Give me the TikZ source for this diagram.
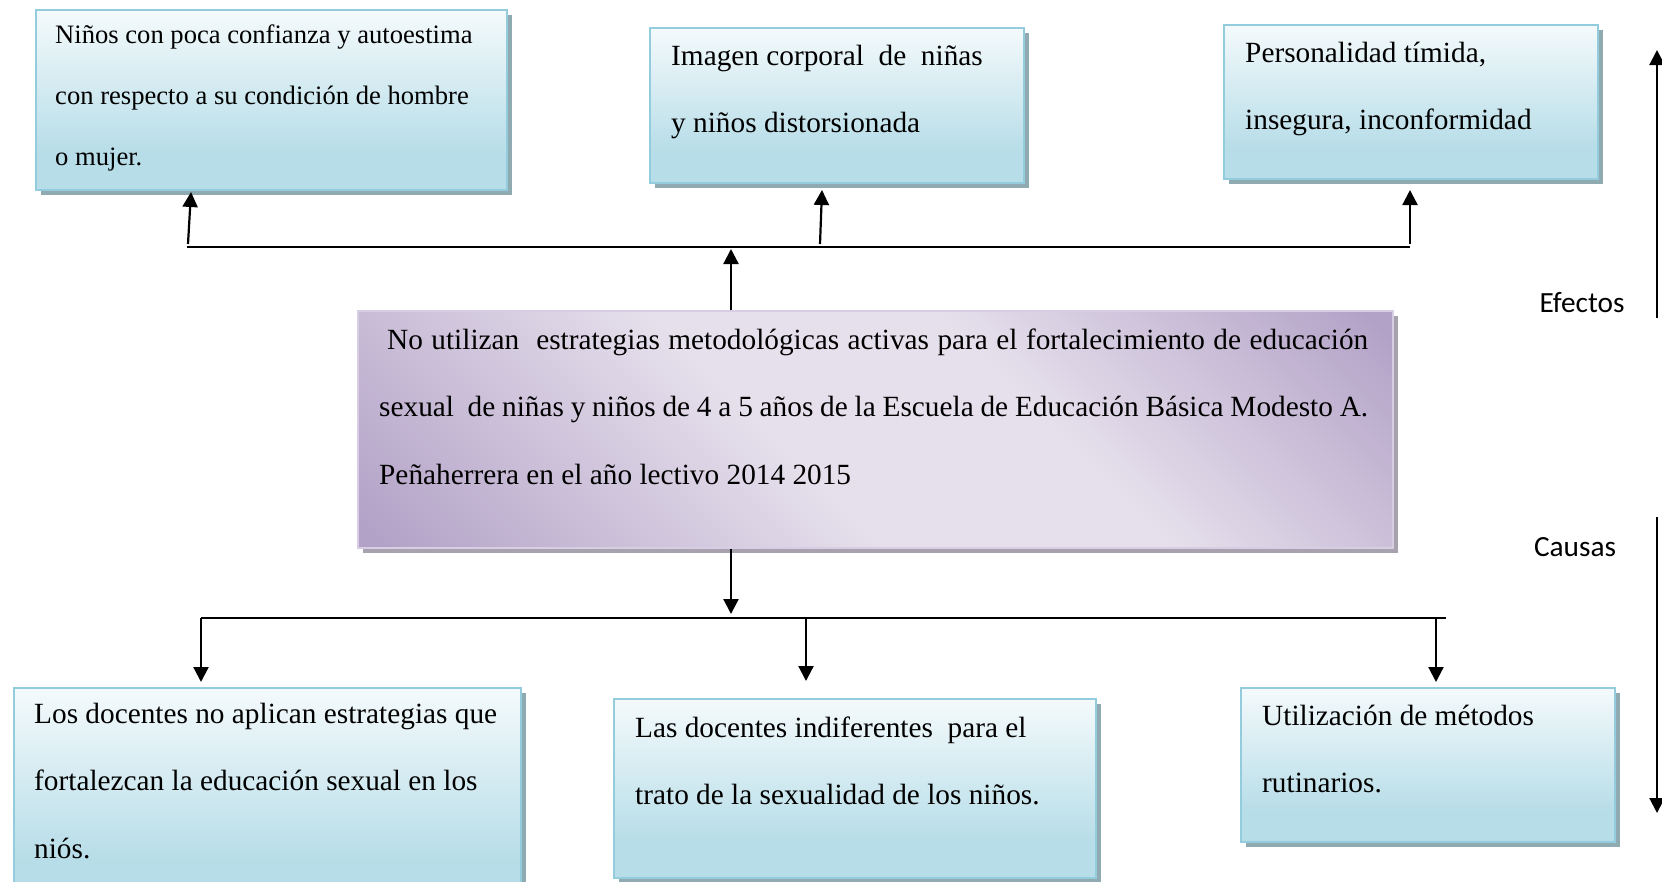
\documentclass[tikz,border=0pt]{standalone}
\usepackage{fontspec}
\setmainfont{Liberation Serif}
\newfontfamily\calib{Carlito}
\usetikzlibrary{arrows.meta,shadows,calc}
\definecolor{bfill}{HTML}{B7DDE8}
\definecolor{bdraw}{HTML}{93CDDD}
\definecolor{bshad}{HTML}{8FAAB1}
\definecolor{pdark}{HTML}{B3A2C7}
\definecolor{plight}{HTML}{E6E0EC}
\definecolor{pshad}{HTML}{A8A2AE}
\definecolor{pedge}{HTML}{D8CEE4}
\newcommand\nsp{\spaceskip=0pt\xspaceskip=0pt\relax}
\pgfdeclareverticalshading{bluesh}{100bp}{color(0bp)=(bfill); color(35bp)=(bfill); color(82bp)=(white); color(100bp)=(white)}
\pgfdeclarehorizontalshading{purpsh}{100bp}{color(0bp)=(pdark); color(16bp)=(pdark); color(44bp)=(plight); color(60bp)=(plight); color(84bp)=(pdark); color(100bp)=(pdark)}
\tikzset{
  bluebox/.style={rectangle, anchor=north west, inner sep=0pt, draw=bdraw, line width=2pt, shading=bluesh,
    drop shadow={shadow xshift=5pt, shadow yshift=-5pt, fill=bshad, opacity=1, draw=none}},
  purpbox/.style={rectangle, anchor=north west, inner sep=0pt, draw=pedge, line width=1.5pt, shading=purpsh, shading angle=45,
    drop shadow={shadow xshift=5pt, shadow yshift=-5pt, fill=pshad, opacity=1, draw=none}},
  txt/.style={anchor=north west, inner sep=0pt, align=left, text width=1100pt,
    font=\fontsize{29.3}{67.5}\selectfont},
  txtjust/.style={anchor=north west, inner sep=0pt, align=justify, text width=989pt,
    font=\fontsize{29.3}{67.5}\selectfont},
  txtsmall/.style={anchor=north west, inner sep=0pt, align=left, text width=600pt,
    font=\fontsize{26.6}{61}\selectfont},
  conn/.style={line width=2.2pt},
  arr/.style={line width=2.2pt, -{Triangle[width=15pt,length=15pt]}},
  side/.style={anchor=base, inner sep=0pt, font=\calib\fontsize{29.3}{35}\selectfont}
}
\begin{document}
\begin{tikzpicture}[x=1pt,y=-1pt]
\useasboundingbox (0,0) rectangle (1662,881);

% effect boxes
\node[bluebox, minimum width=471pt, minimum height=180pt] (e1) at (35,9) {};
\node[bluebox, minimum width=374pt, minimum height=155pt] (e2) at (649,27) {};
\node[bluebox, minimum width=374pt, minimum height=154pt] (e3) at (1223,24) {};
% central problem
\node[purpbox, minimum width=1035pt, minimum height=237pt] (c) at (357,310) {};
% cause boxes
\node[bluebox, minimum width=507pt, minimum height=215pt] (b1) at (13,687) {};
\node[bluebox, minimum width=482pt, minimum height=179pt] (b2) at (613,698) {};
\node[bluebox, minimum width=374pt, minimum height=154pt] (b3) at (1240,687) {};

% texts
\node[txtsmall] (t1) at (55,0.3) {\nsp\strut Niños con poca confianza y autoestima\\con respecto a su condición de hombre\\o mujer.};
\node[txt] (t2) at (671,18) {\nsp\strut Imagen corporal\ \ de\ \ niñas\\y niños distorsionada};
\node[txt] (t3) at (1245,15) {\nsp\strut Personalidad tímida,\\insegura, inconformidad};
\node[txtjust] (tc) at (379,301.75) {\noindent\nsp\strut\hspace*{8pt}No utilizan\ \ estrategias metodológicas activas para el fortalecimiento de educación\linebreak sexual\ \ de niñas y niños de 4 a 5 años de la Escuela de Educación Básica Modesto A.\linebreak Peñaherrera en el año lectivo 2014 2015};
\node[txt] (t4) at (34,675.75) {\nsp\strut Los docentes no aplican estrategias que\\fortalezcan la educación sexual en los\\niós.};
\node[txt] (t5) at (635,689.75) {\nsp\strut Las docentes indiferentes\ \ para el\\trato de la sexualidad de los niños.};
\node[txt] (t6) at (1262,677.75) {\nsp\strut Utilización de métodos\\rutinarios.};

% top connectors
\coordinate (tl) at (187,247);
\coordinate (tr) at (1410,247);
\coordinate (ctop) at (731,249);
\coordinate (a1) at (188,244);
\coordinate (a2) at (820,244);
\coordinate (a3) at (1410,244);
\draw[conn] (tl) -- (tr);
\draw[arr] (c.north -| ctop) -- (ctop);
\draw[arr] (a1) -- ($(191,0 |- e1.south)+(0,1)$);
\draw[arr] (a2) -- ($(822,0 |- e2.south)+(0,6)$);
\draw[arr] (a3) -- ($(a3 |- e3.south)+(0,10)$);

% bottom connectors
\coordinate (bl) at (201,618);
\coordinate (br) at (1446,618);
\coordinate (cbot) at (731,614);
\coordinate (d1) at (201,618);
\coordinate (d2) at (806,618);
\coordinate (d3) at (1436,618);
\draw[conn] (bl) -- (br);
\draw[arr] (c.south -| cbot) -- (cbot);
\draw[arr] (d1) -- ($(d1 |- b1.north)+(0,-5)$);
\draw[arr] (d2) -- ($(d2 |- b2.north)+(0,-17)$);
\draw[arr] (d3) -- ($(d3 |- b3.north)+(0,-5)$);

% side arrows and labels
\coordinate (ef1) at (1657,318);
\coordinate (ef2) at (1657,50);
\coordinate (ca1) at (1657,517);
\coordinate (ca2) at (1657,813);
\draw[arr] (ef1) -- (ef2);
\draw[arr] (ca1) -- (ca2);
\node[side] (efectos) at (1582,312) {Efectos};
\node[side] (causas) at (1575,556) {Causas};
\end{tikzpicture}
\end{document}
